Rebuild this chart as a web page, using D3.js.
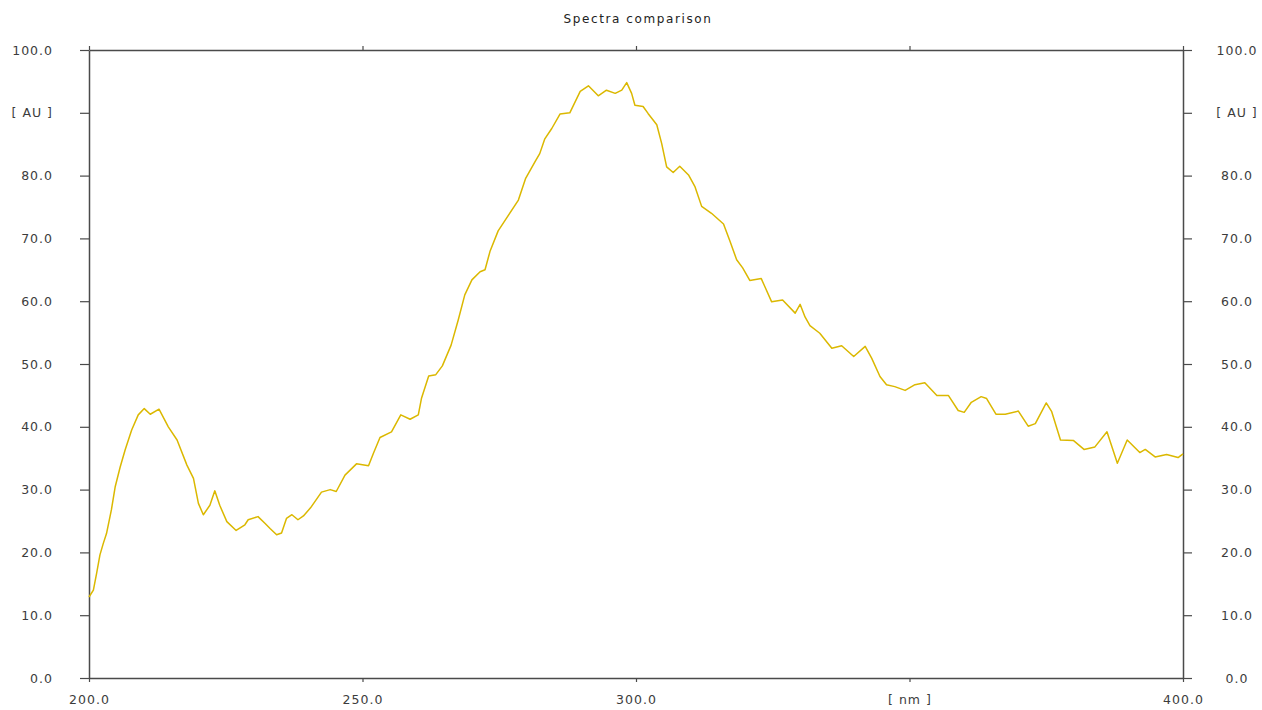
<!DOCTYPE html>
<html>
<head>
<meta charset="utf-8">
<script src="https://cdn.jsdelivr.net/npm/d3@7"></script>
<style>
  html, body { margin: 0; padding: 0; background: #fff; }
  svg { display: block; }
  .lbl { font-family: "DejaVu Sans", sans-serif; font-size: 12.5px; fill: #3c3c3c; letter-spacing: 1px; }
  .title { font-family: "DejaVu Sans", sans-serif; font-size: 12px; fill: #222; letter-spacing: 1.6px; }
</style>
</head>
<body>
<svg id="chart" width="1262" height="710"></svg>
<script>
// Spectrum: wavelength (nm) and absorbance (AU)
const wavelength = [
  200.0, 200.8, 201.4, 202.0, 202.6, 203.2, 204.1, 204.8, 205.7, 206.6,
  207.8, 209.0, 210.1, 211.2, 212.8, 214.5, 216.1, 217.9, 219.1, 220.0,
  220.9, 222.1, 223.0, 223.9, 225.2, 226.9, 228.5, 229.1, 230.9, 232.2,
  233.1, 234.3, 235.2, 236.1, 237.1, 238.2, 239.2, 240.5, 242.5, 244.1,
  245.2, 246.8, 248.9, 251.1, 252.0, 253.2, 255.3, 257.0, 258.7, 260.2,
  260.8, 262.1, 263.4, 264.6, 266.2, 267.5, 268.7, 270.0, 271.5, 272.4,
  273.3, 274.8, 276.3, 278.5, 279.8, 281.6, 282.4, 283.3, 284.6, 286.1,
  287.9, 289.8, 291.3, 293.1, 294.6, 296.2, 297.4, 298.3, 299.2, 299.8,
  301.3, 302.2, 303.8, 304.7, 305.6, 306.8, 308.0, 309.6, 310.8, 312.0,
  313.8, 316.0, 317.2, 318.4, 319.5, 320.8, 322.9, 324.8, 326.8, 329.1,
  330.0, 330.9, 331.8, 333.6, 335.8, 337.6, 339.8, 341.9, 343.1, 344.6,
  345.8, 347.3, 349.2, 351.0, 352.8, 355.0, 357.1, 358.9, 360.0, 361.3,
  363.1, 364.1, 365.8, 367.5, 369.9, 371.7, 373.0, 375.0, 376.0, 377.6,
  380.0, 381.9, 383.9, 386.1, 388.0, 389.8, 392.1, 393.1, 394.9, 397.0,
  399.1, 400.0
];
const absorbance = [
  12.9, 14.0, 16.7, 19.6, 21.4, 23.0, 26.8, 30.5, 33.6, 36.3,
  39.5, 41.9, 42.9, 42.0, 42.8, 40.0, 37.9, 33.9, 31.8, 27.8,
  26.0, 27.5, 29.8, 27.5, 24.9, 23.5, 24.4, 25.2, 25.7, 24.6,
  23.8, 22.8, 23.1, 25.4, 26.0, 25.2, 25.8, 27.1, 29.6, 30.0,
  29.7, 32.3, 34.1, 33.8, 35.8, 38.3, 39.2, 41.9, 41.2, 41.9,
  44.6, 48.1, 48.3, 49.7, 53.0, 57.0, 61.0, 63.4, 64.7, 65.0,
  67.9, 71.2, 73.2, 76.1, 79.5, 82.3, 83.5, 85.8, 87.5, 89.8,
  90.0, 93.4, 94.3, 92.7, 93.6, 93.1, 93.6, 94.8, 93.1, 91.2,
  91.0, 89.9, 88.1, 85.1, 81.4, 80.5, 81.5, 80.1, 78.2, 75.1,
  74.0, 72.3, 69.5, 66.6, 65.3, 63.3, 63.6, 59.9, 60.2, 58.1,
  59.5, 57.5, 56.1, 54.9, 52.5, 52.9, 51.2, 52.8, 50.9, 48.0,
  46.7, 46.4, 45.8, 46.7, 47.0, 45.0, 45.0, 42.6, 42.3, 43.9,
  44.8, 44.5, 42.0, 42.0, 42.5, 40.1, 40.5, 43.8, 42.4, 37.9,
  37.8, 36.4, 36.8, 39.2, 34.2, 37.9, 35.9, 36.4, 35.2, 35.6,
  35.1, 35.7
];

// Axis ticks and labels
const xTicks = [200, 250, 300, 350, 400];
const yTicks = [0, 10, 20, 30, 40, 50, 60, 70, 80, 90, 100];
const xUnitLabel = "[ nm ]";
const yUnitLabel = "[ AU ]";
const chartTitle = "Spectra comparison";

const svg = d3.select("#chart");
const plotLeft = 89, plotRight = 1183, plotTop = 50, plotBottom = 678;

const x = d3.scaleLinear().domain([200, 400]).range([plotLeft, plotRight]);
const y = d3.scaleLinear().domain([0, 100]).range([plotBottom, plotTop]);

const fmtX = d => d === 350 ? xUnitLabel : d.toFixed(1);
const fmtY = d => d === 90 ? yUnitLabel : d.toFixed(1);

function styleAxis(g) {
  g.select(".domain").attr("stroke", "#4a4a4a").attr("stroke-width", 1.5);
  g.selectAll(".tick line").attr("stroke", "#4a4a4a").attr("stroke-width", 1.2);
  g.selectAll(".tick text").attr("class", "lbl").attr("fill", null);
  g.attr("font-family", null).attr("font-size", null);
}

// Bottom axis
svg.append("g")
  .attr("transform", `translate(0,${plotBottom})`)
  .call(d3.axisBottom(x).tickValues(xTicks).tickFormat(fmtX).tickSize(4).tickSizeOuter(0).tickPadding(13))
  .call(styleAxis);

// Top axis (ticks only)
svg.append("g")
  .attr("transform", `translate(0,${plotTop})`)
  .call(d3.axisTop(x).tickValues(xTicks).tickFormat("").tickSize(4).tickSizeOuter(0))
  .call(styleAxis);

// Left axis
svg.append("g")
  .attr("transform", `translate(${plotLeft},0)`)
  .call(d3.axisLeft(y).tickValues(yTicks).tickFormat(fmtY).tickSize(9).tickSizeOuter(0).tickPadding(27))
  .call(styleAxis);

// Right axis, labels centred in the right margin
const rightAxis = svg.append("g")
  .attr("transform", `translate(${plotRight},0)`)
  .call(d3.axisRight(y).tickValues(yTicks).tickFormat(fmtY).tickSize(9).tickSizeOuter(0))
  .call(styleAxis);
rightAxis.selectAll(".tick text")
  .attr("text-anchor", "middle")
  .attr("x", 1237 - plotRight);

// Title
svg.append("text")
  .attr("class", "title")
  .attr("x", (plotLeft + plotRight) / 2 + 2)
  .attr("y", 23)
  .attr("text-anchor", "middle")
  .text(chartTitle);

// Spectrum line
const pts = wavelength.map((w, i) => [w, absorbance[i]]);
svg.append("path")
  .datum(pts)
  .attr("fill", "none")
  .attr("stroke", "#dbb800")
  .attr("stroke-width", 1.5)
  .attr("stroke-linejoin", "round")
  .attr("d", d3.line().x(d => x(d[0])).y(d => y(d[1])));
</script>
</body>
</html>
